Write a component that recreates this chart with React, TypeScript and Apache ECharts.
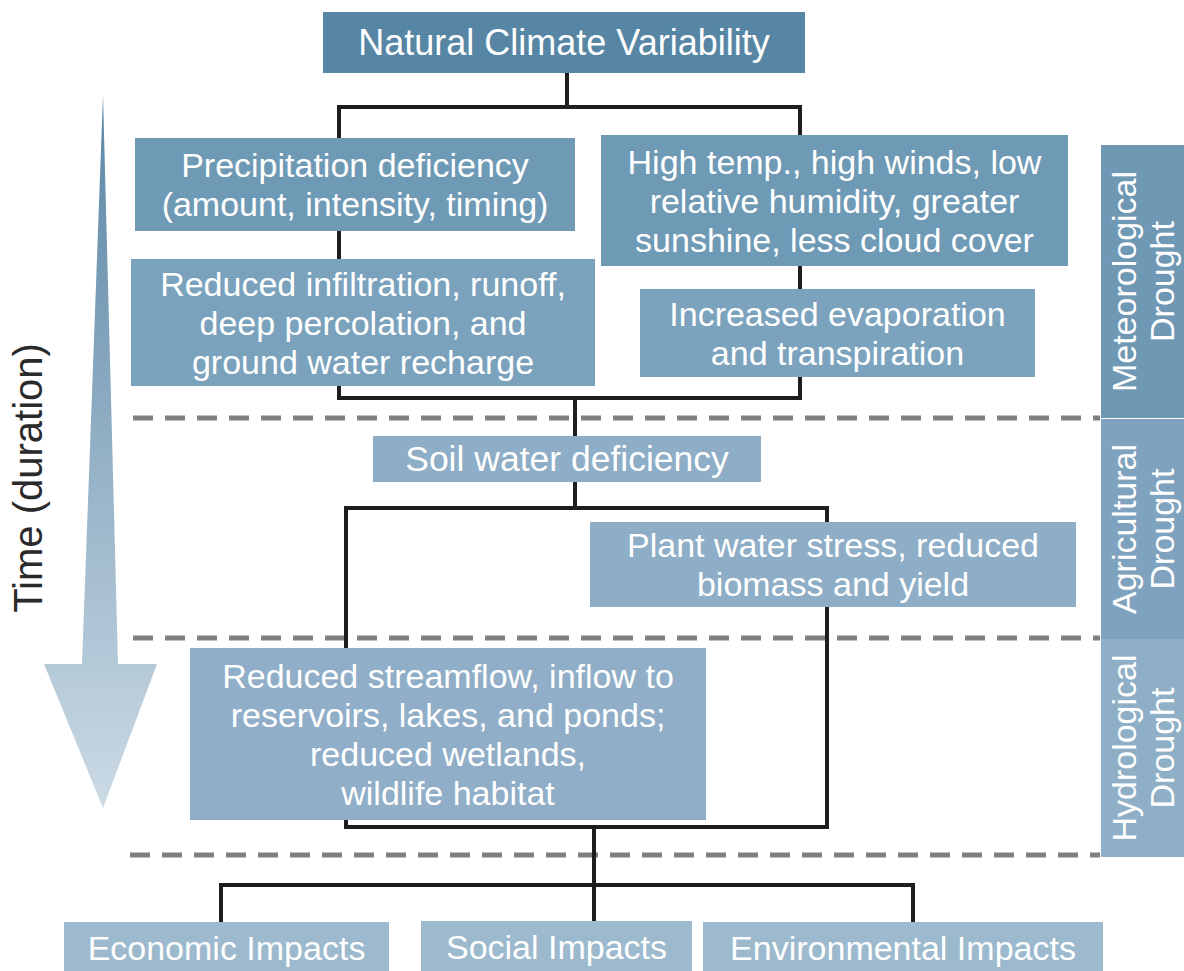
import React, { useEffect, useRef } from "react";
import * as echarts from "echarts";

// ---- content ----
const nodeLabels: string[] = [
  "Natural Climate Variability",
  "Precipitation deficiency\n(amount, intensity, timing)",
  "High temp., high winds, low\nrelative humidity, greater\nsunshine, less cloud cover",
  "Reduced infiltration, runoff,\ndeep percolation, and\nground water recharge",
  "Increased evaporation\nand transpiration",
  "Soil water deficiency",
  "Plant water stress, reduced\nbiomass and yield",
  "Reduced streamflow, inflow to\nreservoirs, lakes, and ponds;\nreduced wetlands,\nwildlife habitat",
  "Economic Impacts",
  "Social Impacts",
  "Environmental Impacts",
];
const bandLabels: string[] = [
  "Meteorological\nDrought",
  "Agricultural\nDrought",
  "Hydrological\nDrought",
];
const axisLabel = "Time (duration)";

// ---- layout ----
const nodeRects: number[][] = [
  [323, 12, 482, 61],
  [135, 138, 440, 93],
  [601, 135, 467, 131],
  [131, 259, 464, 127],
  [640, 289, 395, 88],
  [373, 436, 388, 46],
  [590, 522, 486, 85],
  [190, 648, 516, 172],
  [64, 922, 325, 60],
  [421, 921, 271, 60],
  [703, 922, 400, 60],
];
const nodeFills: string[] = [
  "#5786a5",
  "#6f9ab5",
  "#6f9ab5",
  "#7ba2bc",
  "#7ca3bd",
  "#8eadc6",
  "#8eadc6",
  "#90aec7",
  "#9cb9ce",
  "#9cb9ce",
  "#9cb9ce",
];
const nodeFont: number[] = [36, 34, 34, 34, 34, 35.5, 34, 34, 34, 34, 34];
const bandRects: number[][] = [
  [1101, 145, 83, 273],
  [1101, 419, 83, 220],
  [1101, 639, 83, 218],
];
const bandFills: string[] = ["#6f98b4", "#7fa3be", "#8fafc7"];
const dashedLines: number[][] = [
  [133, 418, 1100],
  [133, 638, 1100],
  [130, 855, 1100],
];
const connectors: number[][][] = [
  [[567, 73], [567, 107]],
  [[339, 138], [339, 107], [800, 107], [800, 135]],
  [[339, 231], [339, 259]],
  [[800, 266], [800, 289]],
  [[339, 386], [339, 398], [800, 398], [800, 377]],
  [[575, 398], [575, 436]],
  [[575, 482], [575, 508]],
  [[346, 648], [346, 508], [827, 508], [827, 522]],
  [[827, 607], [827, 827], [346, 827], [346, 820]],
  [[594, 827], [594, 921]],
  [[221, 922], [221, 885], [913, 885], [913, 922]],
];
const arrowPoints: number[][] = [
  [103, 95],
  [118, 664],
  [157, 664],
  [103, 808],
  [44, 664],
  [82, 664],
];

const FONT = "'Liberation Sans', Arial, sans-serif";

export default function App() {
  const ref = useRef<HTMLDivElement>(null);
  useEffect(() => {
    document.body.style.margin = "0";
    if (!ref.current) return;
    const chart = echarts.init(ref.current, undefined, { renderer: "svg" });
    const elements: any[] = [];

    dashedLines.forEach(([x1, y, x2]) => {
      elements.push({
        type: "line",
        shape: { x1, y1: y, x2, y2: y },
        style: { stroke: "#808080", lineWidth: 5, lineDash: [20, 12] },
      });
    });

    connectors.forEach((pts) => {
      elements.push({
        type: "polyline",
        shape: { points: pts },
        style: { stroke: "#1e1e1e", lineWidth: 4, fill: null, lineJoin: "miter" },
      });
    });

    nodeRects.forEach(([x, y, w, h], i) => {
      elements.push({
        type: "rect",
        shape: { x, y, width: w, height: h },
        style: { fill: nodeFills[i] },
      });
      elements.push({
        type: "text",
        x: x + w / 2,
        y: y + (i >= 8 ? 26 : h / 2),
        style: {
          text: nodeLabels[i],
          fill: "#ffffff",
          font: `${nodeFont[i]}px ${FONT}`,
          lineHeight: 39,
          align: "center",
          verticalAlign: "middle",
        },
      });
    });

    bandRects.forEach(([x, y, w, h], i) => {
      elements.push({
        type: "rect",
        shape: { x, y, width: w, height: h },
        style: { fill: bandFills[i] },
      });
      elements.push({
        type: "text",
        x: x + w / 2,
        y: y + h / 2,
        rotation: Math.PI / 2,
        style: {
          text: bandLabels[i],
          fill: "#ffffff",
          font: `34px ${FONT}`,
          lineHeight: 38,
          align: "center",
          verticalAlign: "middle",
        },
      });
    });

    elements.push({
      type: "polygon",
      shape: { points: arrowPoints },
      style: {
        fill: new echarts.graphic.LinearGradient(0, 0, 0, 1, [
          { offset: 0, color: "#5a86a5" },
          { offset: 1, color: "#cbdae5" },
        ]),
      },
    });
    elements.push({
      type: "text",
      x: 28,
      y: 478,
      rotation: Math.PI / 2,
      style: {
        text: axisLabel,
        fill: "#2a2a2a",
        font: `40px ${FONT}`,
        align: "center",
        verticalAlign: "middle",
      },
    });

    chart.setOption({
      animation: false,
      backgroundColor: "#ffffff",
      graphic: { elements },
    });
    return () => chart.dispose();
  }, []);
  return <div ref={ref} style={{ width: 1184, height: 971 }} />;
}
